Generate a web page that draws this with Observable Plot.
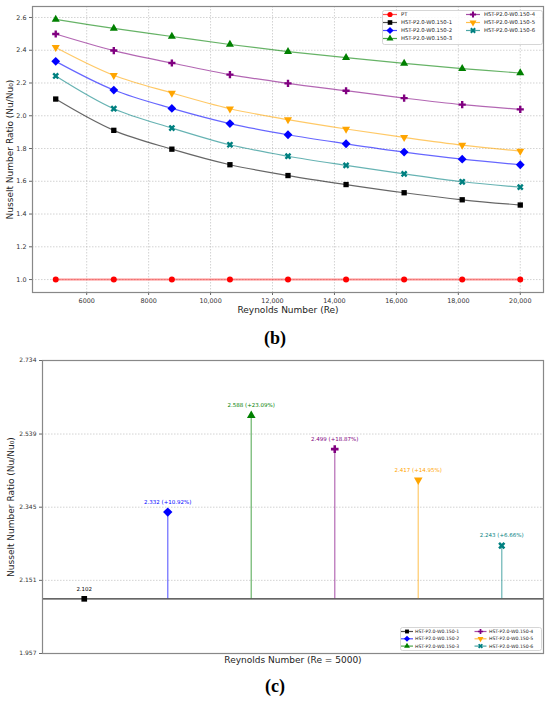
<!DOCTYPE html>
<html>
<head>
<meta charset="utf-8">
<script src="https://cdn.jsdelivr.net/npm/d3@7"></script>
<script src="https://cdn.jsdelivr.net/npm/@observablehq/plot@0.6"></script>
<style>
  html, body { margin: 0; padding: 0; background: white; }
  #root { position: relative; width: 550px; height: 701px; overflow: hidden; font-family: "DejaVu Sans", sans-serif; }
  .panel { position: absolute; left: 0; width: 550px; text-align: center; font-family: "Liberation Serif", "DejaVu Serif", serif; font-weight: bold; font-size: 18px; line-height: 18px; }
</style>
</head>
<body>
<div id="root"></div>
<script>
// ---------------- data ----------------
const reynolds = [5000, 6875, 8750, 10625, 12500, 14375, 16250, 18125, 20000];
const ptValues = [1, 1, 1, 1, 1, 1, 1, 1, 1];
const hst1 = [2.102, 1.911, 1.796, 1.701, 1.635, 1.580, 1.530, 1.487, 1.455];
const hst2 = [2.332, 2.157, 2.045, 1.952, 1.884, 1.829, 1.778, 1.735, 1.701];
const hst3 = [2.588, 2.533, 2.484, 2.435, 2.392, 2.355, 2.320, 2.288, 2.261];
const hst4 = [2.499, 2.398, 2.322, 2.251, 2.198, 2.153, 2.108, 2.068, 2.039];
const hst5 = [2.417, 2.247, 2.139, 2.043, 1.976, 1.919, 1.868, 1.821, 1.784];
const hst6 = [2.243, 2.043, 1.925, 1.823, 1.753, 1.697, 1.645, 1.597, 1.564];

const seriesNames = ["PT", "HST-P2.0-W0.150-1", "HST-P2.0-W0.150-2", "HST-P2.0-W0.150-3",
                     "HST-P2.0-W0.150-4", "HST-P2.0-W0.150-5", "HST-P2.0-W0.150-6"];
const seriesColors = ["red", "black", "blue", "green", "purple", "orange", "teal"];

const xTicksTop = [6000, 8000, 10000, 12000, 14000, 16000, 18000, 20000];
const yTicksTop = [1.0, 1.2, 1.4, 1.6, 1.8, 2.0, 2.2, 2.4, 2.6];

// panel (c): values at Re = 5000
const cNames = seriesNames.slice(1);
const cValues = [2.102, 2.332, 2.588, 2.499, 2.417, 2.243];
const cPercent = [null, 10.92, 23.09, 18.87, 14.95, 6.66];
const yTicksC = [1.957, 2.151, 2.345, 2.539, 2.734];
const baselineC = 2.102;

// ---------------- symbols ----------------
const flipY = ctx => ({moveTo: (x, y) => ctx.moveTo(x, -y), lineTo: (x, y) => ctx.lineTo(x, -y), closePath: () => ctx.closePath()});
const rot45 = ctx => { const c = Math.SQRT1_2; return {
  moveTo: (x, y) => ctx.moveTo(c * (x - y), c * (x + y)),
  lineTo: (x, y) => ctx.lineTo(c * (x - y), c * (x + y)),
  closePath: () => ctx.closePath()}; };
const symDiamond = {draw(ctx, size) { const r = Math.sqrt(size / 2) * 1.1; ctx.moveTo(0, -r); ctx.lineTo(r, 0); ctx.lineTo(0, r); ctx.lineTo(-r, 0); ctx.closePath(); }};
const symTriDown = {draw(ctx, size) { d3.symbolTriangle.draw(flipY(ctx), size); }};
const symX = {draw(ctx, size) { d3.symbolCross.draw(rot45(ctx), size); }};
const seriesSymbols = [d3.symbolCircle, d3.symbolSquare, symDiamond, d3.symbolTriangle, d3.symbolCross, symTriDown, symX];

const root = document.getElementById("root");
const FONT = "DejaVu Sans";

// ---------------- panel (b) ----------------
const allSeries = [ptValues, hst1, hst2, hst3, hst4, hst5, hst6];
const rows = allSeries.flatMap((vals, k) => vals.map((v, i) => ({re: reynolds[i], v, k})));

const gridStyle = {stroke: "#b0b0b0", strokeOpacity: 0.8, strokeWidth: 0.7, strokeDasharray: "1.5,1.5"};
const marksB = [
  Plot.gridX(xTicksTop, gridStyle),
  Plot.gridY(yTicksTop, gridStyle),
  Plot.axisX(xTicksTop, {tickSize: 3, tickPadding: 2.5, fontSize: 6.4, fill: "#333", stroke: "#666",
    tickFormat: d => d >= 10000 ? d3.format(",")(d) : String(d), label: null}),
  Plot.axisY(yTicksTop, {tickSize: 3, tickPadding: 3, fontSize: 6.4, fill: "#333", stroke: "#666",
    tickFormat: d3.format(".1f"), label: null})
];
allSeries.forEach((vals, k) => {
  const data = rows.filter(d => d.k === k);
  marksB.push(Plot.line(data, {x: "re", y: "v", stroke: seriesColors[k], strokeOpacity: k === 0 ? 0.45 : 0.6,
    strokeWidth: k === 0 ? 2 : 1.2, curve: "catmull-rom"}));
  marksB.push(Plot.dot(data, {x: "re", y: "v", fill: seriesColors[k], symbol: seriesSymbols[k], r: k === 2 ? 3.2 : 3}));
});
marksB.push(Plot.frame({stroke: "#888", strokeWidth: 1.2}));
marksB.push(Plot.text(["Reynolds Number (Re)"], {frameAnchor: "bottom", dy: 17.5, fontSize: 9, fill: "#222", lineAnchor: "middle"}));
marksB.push(Plot.text(["Nusselt Number Ratio (Nu/Nu\u2080)"], {frameAnchor: "left", dx: -22, rotate: -90, fontSize: 9,
  fill: "#222", textAnchor: "middle", lineAnchor: "middle"}));

const plotB = Plot.plot({
  width: 550, height: 322,
  marginLeft: 32, marginRight: 7, marginTop: 6, marginBottom: 30,
  style: {fontFamily: FONT, background: "white", overflow: "visible"},
  x: {domain: [4250, 20750]},
  y: {domain: [0.921, 2.667]},
  marks: marksB
});
plotB.style.position = "absolute"; plotB.style.left = "0px"; plotB.style.top = "0px";
root.appendChild(plotB);

// ---------------- panel (c) ----------------
const cRows = cValues.map((v, i) => ({i, v, name: cNames[i], color: seriesColors[i + 1],
  label: cPercent[i] == null ? v.toFixed(3) : `${v.toFixed(3)} (+${cPercent[i].toFixed(2)}%)`}));
const marksC = [
  Plot.gridY(yTicksC, gridStyle),
  Plot.axisY(yTicksC, {tickSize: 3, tickPadding: 3, fontSize: 6, fill: "#333", stroke: "#666",
    tickFormat: d3.format(".3f"), label: null}),
  Plot.ruleY([baselineC], {stroke: "#333", strokeWidth: 1.2}),
  Plot.ruleX(cRows.filter(d => d.v !== baselineC), {x: "i", y1: () => baselineC, y2: "v", stroke: "color", strokeOpacity: 0.5, strokeWidth: 1.4})
];
cRows.forEach((d, idx) => {
  marksC.push(Plot.dot([d], {x: "i", y: "v", fill: d.color, symbol: seriesSymbols[idx + 1], r: idx === 1 ? 3.4 : 3.2}));
});
marksC.push(Plot.text(cRows, {x: "i", y: "v", text: "label", fill: "color", fontSize: 5.5, dy: -10}));
marksC.push(Plot.frame({stroke: "#888", strokeWidth: 1.2}));
marksC.push(Plot.text(["Reynolds Number (Re = 5000)"], {frameAnchor: "bottom", dy: 7, fontSize: 9, fill: "#222", lineAnchor: "middle"}));
marksC.push(Plot.text(["Nusselt Number Ratio (Nu/Nu\u2080)"], {frameAnchor: "left", dx: -31, rotate: -90, fontSize: 9,
  fill: "#222", textAnchor: "middle", lineAnchor: "middle"}));

const plotC = Plot.plot({
  width: 550, height: 325,
  marginLeft: 42, marginRight: 7, marginTop: 10, marginBottom: 22,
  style: {fontFamily: FONT, background: "white", overflow: "visible"},
  x: {domain: [-0.5, 5.5], axis: null},
  y: {domain: [1.957, 2.734]},
  marks: marksC
});
plotC.style.position = "absolute"; plotC.style.left = "0px"; plotC.style.top = "350px";
root.appendChild(plotC);

// ---------------- legends ----------------
function legend({left, top, width, height, items, colX, textX, rowY, fontSize, r, lineHalf}) {
  const svg = d3.create("svg").attr("width", width).attr("height", height)
    .style("position", "absolute").style("left", left + "px").style("top", top + "px")
    .style("font-family", FONT);
  svg.append("rect").attr("x", 0.5).attr("y", 0.5).attr("width", width - 1).attr("height", height - 1)
    .attr("rx", 2).attr("fill", "white").attr("fill-opacity", 0.85).attr("stroke", "#ccc").attr("stroke-width", 0.8);
  items.forEach(it => {
    const cx = colX[it.col], cy = rowY[it.row];
    svg.append("line").attr("x1", cx - lineHalf).attr("x2", cx + lineHalf).attr("y1", cy).attr("y2", cy)
      .attr("stroke", it.color).attr("stroke-opacity", 0.7).attr("stroke-width", 1.2);
    svg.append("path").attr("d", d3.symbol(it.symbol, r * r * Math.PI)()).attr("transform", `translate(${cx},${cy})`)
      .attr("fill", it.color);
    svg.append("text").attr("x", textX[it.col]).attr("y", cy).attr("dy", "0.35em").attr("font-size", fontSize)
      .attr("fill", "#222").text(it.label);
  });
  root.appendChild(svg.node());
}

legend({
  left: 382, top: 10, width: 161, height: 35,
  items: seriesNames.map((label, k) => ({label, color: seriesColors[k], symbol: seriesSymbols[k],
    col: k < 4 ? 0 : 1, row: k < 4 ? k : k - 4})),
  colX: [8, 91], textX: [19, 102], rowY: [4.5, 12.5, 20.5, 28.5], fontSize: 5.3, r: 2.6, lineHalf: 7
});

legend({
  left: 400, top: 627, width: 142, height: 24,
  items: cNames.map((label, k) => ({label, color: seriesColors[k + 1], symbol: seriesSymbols[k + 1],
    col: k < 3 ? 0 : 1, row: k % 3})),
  colX: [7, 80.5], textX: [15, 89], rowY: [4.5, 11.8, 19.1], fontSize: 4.6, r: 2.2, lineHalf: 6
});

// ---------------- panel tags ----------------
const tagB = document.createElement("div"); tagB.className = "panel"; tagB.style.top = "329px"; tagB.textContent = "(b)";
const tagC = document.createElement("div"); tagC.className = "panel"; tagC.style.top = "677px"; tagC.textContent = "(c)";
root.appendChild(tagB); root.appendChild(tagC);
</script>
</body>
</html>
